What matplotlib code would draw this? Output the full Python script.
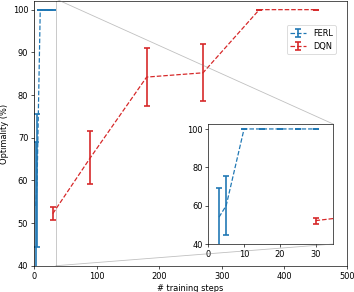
from matplotlib import pyplot as plt
from matplotlib.patches import ConnectionPatch, Rectangle
import numpy as np

# FERL: mean optimality and symmetric error per number of training steps
ferl_steps = [3, 5, 10, 15, 20, 25, 30]
ferl_mean = [54.0, 60.0, 100.0, 100.0, 100.0, 100.0, 100.0]
ferl_err = [15.0, 15.5, 0.0, 0.0, 0.0, 0.0, 0.0]

# DQN
dqn_steps = [30, 90, 180, 270, 360, 450]
dqn_mean = [52.2, 65.3, 84.2, 85.2, 100.0, 100.0]
dqn_err = [1.6, 6.2, 6.7, 6.7, 0.0, 0.0]

blue = "#1f77b4"
red = "#d62728"


def draw(ax):
    ax.errorbar(ferl_steps, ferl_mean, yerr=ferl_err, color=blue, ls="--",
                lw=1.5, elinewidth=2, capsize=4, capthick=2, label="FERL")
    ax.errorbar(dqn_steps, dqn_mean, yerr=dqn_err, color=red, ls="--",
                lw=1.5, elinewidth=2, capsize=4, capthick=2, label="DQN")


fig = plt.figure(figsize=(6, 4.95), dpi=59)
ax = fig.add_axes([0.096, 0.090, 0.884, 0.906])
draw(ax)
ax.set_xlim(0, 500)
ax.set_ylim(40, 102)
ax.set_xticks(np.arange(0, 501, 100))
ax.set_yticks(np.arange(40, 101, 10))
ax.set_xlabel("# training steps")
ax.set_ylabel("Optimality (%)")
ax.legend(loc="upper right", bbox_to_anchor=(0.965, 0.909), borderaxespad=0)

axins = ax.inset_axes([0.557, 0.082, 0.400, 0.453])
draw(axins)
x1, x2, y1, y2 = 0, 35, 40, 102.5
axins.set_xlim(x1, x2)
axins.set_ylim(y1, y2)
axins.set_xticks([0, 10, 20, 30])
axins.set_yticks([40, 60, 80, 100])

# zoom indicator: box on main axes and two connectors to the inset
ax.add_patch(Rectangle((x1, y1), x2 - x1, y2 - y1, fill=False,
                       edgecolor="0.5", alpha=0.5, lw=1))
for ya, yi in [(y2, 1), (y1, 0)]:
    con = ConnectionPatch(xyA=(x2, ya), coordsA=ax.transData,
                          xyB=(1, yi), coordsB=axins.transAxes,
                          color="0.5", alpha=0.5, lw=1)
    fig.add_artist(con)

fig.savefig("out.png", dpi=59)
